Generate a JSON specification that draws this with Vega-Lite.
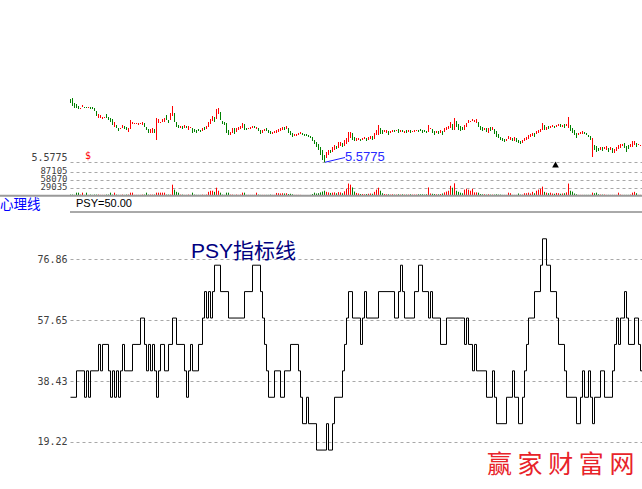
{
  "$schema": "https://vega.github.io/schema/vega-lite/v6.json",
  "width": 572,
  "height": 489,
  "autosize": {"type": "none"},
  "padding": {"left": 70, "top": 0, "right": 0, "bottom": 0},
  "background": "white",
  "config": {"view": {"stroke": null}, "font": "Liberation Sans"},
  "datasets": {
    "k": [
      {"d":0,"o":6.21,"c":6.17,"v":4000},{"d":1,"o":6.22,"c":6.14,"v":4000},{"d":2,"o":6.17,"c":6.12,"v":3000},{"d":3,"o":6.16,"c":6.12,"v":11000},
      {"d":4,"o":6.14,"c":6.11,"v":11000},{"d":5,"o":6.11,"c":6.12,"v":4000},{"d":6,"o":6.13,"c":6.15,"v":11000},{"d":7,"o":6.13,"c":6.12,"v":3000},
      {"d":8,"o":6.13,"c":6.12,"v":11000},{"d":9,"o":6.12,"c":6.13,"v":3000},{"d":10,"o":6.13,"c":6.11,"v":4000},{"d":11,"o":6.13,"c":6.11,"v":3000},
      {"d":12,"o":6.12,"c":6.09,"v":4000},{"d":13,"o":6.09,"c":6.04,"v":4000},{"d":14,"o":6.02,"c":6.06,"v":4000},{"d":15,"o":6.02,"c":6.05,"v":3000},
      {"d":16,"o":6.01,"c":6.03,"v":3000},{"d":17,"o":6.02,"c":6.03,"v":3000},{"d":18,"o":6.06,"c":6.02,"v":4000},{"d":19,"o":6.03,"c":6.00,"v":4000},
      {"d":20,"o":6.02,"c":5.98,"v":11000},{"d":21,"o":6.01,"c":5.95,"v":4000},{"d":22,"o":5.93,"c":5.98,"v":11000},{"d":23,"o":5.95,"c":5.92,"v":4000},
      {"d":24,"o":5.92,"c":5.89,"v":3000},{"d":25,"o":5.91,"c":5.92,"v":3000},{"d":26,"o":5.92,"c":5.95,"v":4000},{"d":27,"o":5.94,"c":5.91,"v":3000},
      {"d":28,"o":5.93,"c":5.90,"v":4000},{"d":29,"o":5.88,"c":5.92,"v":4000},{"d":30,"o":5.91,"c":6.00,"v":11000},{"d":31,"o":5.96,"c":5.98,"v":11000},
      {"d":32,"o":5.96,"c":5.97,"v":3000},{"d":33,"o":5.96,"c":5.97,"v":3000},{"d":34,"o":5.95,"c":5.97,"v":3000},{"d":35,"o":5.96,"c":5.97,"v":3000},
      {"d":36,"o":5.95,"c":5.98,"v":4000},{"d":37,"o":5.97,"c":5.93,"v":4000},{"d":38,"o":5.93,"c":5.90,"v":11000},{"d":39,"o":5.91,"c":5.87,"v":4000},
      {"d":40,"o":5.87,"c":5.91,"v":4000},{"d":41,"o":5.87,"c":5.92,"v":4000},{"d":42,"o":5.91,"c":5.87,"v":4000},{"d":43,"o":5.80,"c":6.02,"v":11000},
      {"d":44,"o":5.97,"c":6.01,"v":11000},{"d":45,"o":5.97,"c":5.98,"v":11000},{"d":46,"o":5.98,"c":6.01,"v":11000},{"d":47,"o":5.98,"c":6.02,"v":11000},
      {"d":48,"o":6.05,"c":6.00,"v":4000},{"d":49,"o":6.00,"c":5.97,"v":4000},{"d":50,"o":6.00,"c":6.07,"v":4000},{"d":51,"o":6.04,"c":6.14,"v":40000},
      {"d":52,"o":6.07,"c":5.98,"v":22000},{"d":53,"o":5.98,"c":5.93,"v":14000},{"d":54,"o":5.95,"c":5.92,"v":11000},{"d":55,"o":5.92,"c":5.94,"v":4000},
      {"d":56,"o":5.94,"c":5.91,"v":4000},{"d":57,"o":5.92,"c":5.95,"v":3000},{"d":58,"o":5.94,"c":5.92,"v":3000},{"d":59,"o":5.90,"c":5.94,"v":4000},
      {"d":60,"o":5.92,"c":5.93,"v":3000},{"d":61,"o":5.92,"c":5.87,"v":11000},{"d":62,"o":5.91,"c":5.88,"v":4000},{"d":63,"o":5.90,"c":5.87,"v":3000},
      {"d":64,"o":5.91,"c":5.89,"v":3000},{"d":65,"o":5.90,"c":5.88,"v":3000},{"d":66,"o":5.89,"c":5.92,"v":4000},{"d":67,"o":5.93,"c":5.90,"v":3000},
      {"d":68,"o":5.91,"c":5.94,"v":4000},{"d":69,"o":5.93,"c":5.98,"v":14000},{"d":70,"o":5.96,"c":6.01,"v":18000},{"d":71,"o":5.99,"c":6.04,"v":18000},
      {"d":72,"o":6.03,"c":5.98,"v":14000},{"d":73,"o":6.01,"c":6.11,"v":29000},{"d":74,"o":6.06,"c":6.12,"v":18000},{"d":75,"o":6.08,"c":6.00,"v":11000},
      {"d":76,"o":5.99,"c":5.96,"v":4000},{"d":77,"o":5.98,"c":5.95,"v":3000},{"d":78,"o":5.97,"c":5.87,"v":11000},{"d":79,"o":5.90,"c":5.85,"v":11000},
      {"d":80,"o":5.85,"c":5.88,"v":4000},{"d":81,"o":5.87,"c":5.92,"v":4000},{"d":82,"o":5.92,"c":5.86,"v":3000},{"d":83,"o":5.88,"c":5.92,"v":4000},
      {"d":84,"o":5.90,"c":5.93,"v":3000},{"d":85,"o":5.91,"c":5.94,"v":4000},{"d":86,"o":5.92,"c":5.97,"v":11000},{"d":87,"o":5.96,"c":5.90,"v":11000},
      {"d":88,"o":5.92,"c":5.90,"v":3000},{"d":89,"o":5.91,"c":5.92,"v":3000},{"d":90,"o":5.91,"c":5.93,"v":3000},{"d":91,"o":5.92,"c":5.94,"v":3000},
      {"d":92,"o":5.94,"c":5.92,"v":3000},{"d":93,"o":5.91,"c":5.93,"v":11000},{"d":94,"o":5.92,"c":5.89,"v":4000},{"d":95,"o":5.90,"c":5.86,"v":3000},
      {"d":96,"o":5.87,"c":5.90,"v":3000},{"d":97,"o":5.89,"c":5.91,"v":3000},{"d":98,"o":5.92,"c":5.89,"v":3000},{"d":99,"o":5.90,"c":5.87,"v":3000},
      {"d":100,"o":5.89,"c":5.86,"v":4000},{"d":101,"o":5.86,"c":5.88,"v":3000},{"d":102,"o":5.87,"c":5.89,"v":3000},{"d":103,"o":5.87,"c":5.90,"v":10000},
      {"d":104,"o":5.88,"c":5.91,"v":9000},{"d":105,"o":5.89,"c":5.92,"v":8000},{"d":106,"o":5.90,"c":5.93,"v":9000},{"d":107,"o":5.93,"c":5.90,"v":8000},
      {"d":108,"o":5.91,"c":5.94,"v":9000},{"d":109,"o":5.92,"c":5.87,"v":6000},{"d":110,"o":5.89,"c":5.85,"v":7000},{"d":111,"o":5.87,"c":5.83,"v":5000},
      {"d":112,"o":5.84,"c":5.86,"v":3000},{"d":113,"o":5.84,"c":5.86,"v":3000},{"d":114,"o":5.85,"c":5.87,"v":3000},{"d":115,"o":5.86,"c":5.88,"v":3000},
      {"d":116,"o":5.87,"c":5.85,"v":2000},{"d":117,"o":5.86,"c":5.84,"v":2000},{"d":118,"o":5.86,"c":5.84,"v":2000},{"d":119,"o":5.85,"c":5.83,"v":2000},
      {"d":120,"o":5.84,"c":5.82,"v":3000},{"d":121,"o":5.83,"c":5.79,"v":6000},{"d":122,"o":5.80,"c":5.76,"v":11000},{"d":123,"o":5.78,"c":5.73,"v":8000},
      {"d":124,"o":5.76,"c":5.70,"v":9000},{"d":125,"o":5.73,"c":5.65,"v":12000},{"d":126,"o":5.70,"c":5.60,"v":15000},{"d":127,"o":5.65,"c":5.5775,"v":18000},
      {"d":128,"o":5.62,"c":5.68,"v":14000},{"d":129,"o":5.65,"c":5.70,"v":12000},{"d":130,"o":5.70,"c":5.67,"v":10000},{"d":131,"o":5.68,"c":5.73,"v":11000},
      {"d":132,"o":5.70,"c":5.75,"v":12000},{"d":133,"o":5.74,"c":5.71,"v":9000},{"d":134,"o":5.72,"c":5.78,"v":13000},{"d":135,"o":5.74,"c":5.78,"v":12000},
      {"d":136,"o":5.77,"c":5.73,"v":9000},{"d":137,"o":5.74,"c":5.80,"v":16000},{"d":138,"o":5.76,"c":5.82,"v":25000},{"d":139,"o":5.78,"c":5.88,"v":44000},
      {"d":140,"o":5.82,"c":5.88,"v":40000},{"d":141,"o":5.87,"c":5.80,"v":30000},{"d":142,"o":5.83,"c":5.79,"v":15000},{"d":143,"o":5.79,"c":5.82,"v":10000},
      {"d":144,"o":5.80,"c":5.82,"v":8000},{"d":145,"o":5.81,"c":5.79,"v":6000},{"d":146,"o":5.80,"c":5.82,"v":6000},{"d":147,"o":5.81,"c":5.83,"v":5000},
      {"d":148,"o":5.82,"c":5.79,"v":6000},{"d":149,"o":5.80,"c":5.83,"v":7000},{"d":150,"o":5.81,"c":5.84,"v":8000},{"d":151,"o":5.84,"c":5.80,"v":7000},
      {"d":152,"o":5.81,"c":5.87,"v":14000},{"d":153,"o":5.85,"c":5.90,"v":22000},{"d":154,"o":5.85,"c":5.95,"v":29000},{"d":155,"o":5.92,"c":5.86,"v":18000},
      {"d":156,"o":5.90,"c":5.86,"v":9000},{"d":157,"o":5.88,"c":5.90,"v":6000},{"d":158,"o":5.87,"c":5.90,"v":5000},{"d":159,"o":5.89,"c":5.85,"v":5000},
      {"d":160,"o":5.87,"c":5.89,"v":4000},{"d":161,"o":5.88,"c":5.90,"v":5000},{"d":162,"o":5.90,"c":5.88,"v":4000},{"d":163,"o":5.89,"c":5.90,"v":4000},
      {"d":164,"o":5.91,"c":5.87,"v":5000},{"d":165,"o":5.88,"c":5.90,"v":4000},{"d":166,"o":5.90,"c":5.88,"v":5000},{"d":167,"o":5.87,"c":5.89,"v":4000},
      {"d":168,"o":5.90,"c":5.87,"v":4000},{"d":169,"o":5.88,"c":5.90,"v":4000},{"d":170,"o":5.90,"c":5.87,"v":5000},{"d":171,"o":5.88,"c":5.89,"v":4000},
      {"d":172,"o":5.88,"c":5.90,"v":4000},{"d":173,"o":5.89,"c":5.90,"v":4000},{"d":174,"o":5.90,"c":5.88,"v":5000},{"d":175,"o":5.91,"c":5.89,"v":5000},
      {"d":176,"o":5.90,"c":5.87,"v":5000},{"d":177,"o":5.90,"c":5.88,"v":4000},{"d":178,"o":5.89,"c":5.87,"v":5000},{"d":179,"o":5.88,"c":5.95,"v":30000},
      {"d":180,"o":5.91,"c":5.92,"v":8000},{"d":181,"o":5.91,"c":5.87,"v":7000},{"d":182,"o":5.89,"c":5.85,"v":6000},{"d":183,"o":5.87,"c":5.89,"v":5000},
      {"d":184,"o":5.89,"c":5.86,"v":5000},{"d":185,"o":5.87,"c":5.90,"v":6000},{"d":186,"o":5.89,"c":5.85,"v":8000},{"d":187,"o":5.88,"c":5.92,"v":12000},
      {"d":188,"o":5.90,"c":5.93,"v":15000},{"d":189,"o":5.91,"c":5.94,"v":18000},{"d":190,"o":5.92,"c":5.98,"v":36000},{"d":191,"o":5.96,"c":5.90,"v":29000},
      {"d":192,"o":5.90,"c":6.02,"v":45000},{"d":193,"o":5.99,"c":5.93,"v":18000},{"d":194,"o":5.96,"c":5.90,"v":14000},{"d":195,"o":5.94,"c":5.89,"v":11000},
      {"d":196,"o":5.93,"c":5.90,"v":9000},{"d":197,"o":5.90,"c":5.95,"v":22000},{"d":198,"o":5.93,"c":5.97,"v":25000},{"d":199,"o":5.97,"c":6.00,"v":22000},
      {"d":200,"o":5.98,"c":5.99,"v":18000},{"d":201,"o":5.99,"c":6.01,"v":25000},{"d":202,"o":5.98,"c":6.00,"v":12000},{"d":203,"o":5.97,"c":6.01,"v":12000},
      {"d":204,"o":5.98,"c":5.93,"v":11000},{"d":205,"o":5.94,"c":5.90,"v":6000},{"d":206,"o":5.93,"c":5.89,"v":5000},{"d":207,"o":5.90,"c":5.92,"v":5000},
      {"d":208,"o":5.92,"c":5.88,"v":4000},{"d":209,"o":5.87,"c":5.92,"v":5000},{"d":210,"o":5.93,"c":5.89,"v":4000},{"d":211,"o":5.90,"c":5.93,"v":4000},
      {"d":212,"o":5.91,"c":5.86,"v":4000},{"d":213,"o":5.89,"c":5.83,"v":5000},{"d":214,"o":5.86,"c":5.82,"v":4000},{"d":215,"o":5.83,"c":5.80,"v":4000},
      {"d":216,"o":5.82,"c":5.79,"v":3000},{"d":217,"o":5.81,"c":5.78,"v":3000},{"d":218,"o":5.79,"c":5.81,"v":3000},{"d":219,"o":5.81,"c":5.84,"v":11000},
      {"d":220,"o":5.80,"c":5.83,"v":9000},{"d":221,"o":5.82,"c":5.79,"v":3000},{"d":222,"o":5.79,"c":5.83,"v":3000},{"d":223,"o":5.82,"c":5.78,"v":3000},
      {"d":224,"o":5.80,"c":5.77,"v":8000},{"d":225,"o":5.79,"c":5.76,"v":4000},{"d":226,"o":5.77,"c":5.80,"v":4000},{"d":227,"o":5.79,"c":5.82,"v":9000},
      {"d":228,"o":5.80,"c":5.83,"v":9000},{"d":229,"o":5.81,"c":5.85,"v":11000},{"d":230,"o":5.83,"c":5.86,"v":8000},{"d":231,"o":5.84,"c":5.87,"v":14000},
      {"d":232,"o":5.87,"c":5.83,"v":9000},{"d":233,"o":5.86,"c":5.89,"v":18000},{"d":234,"o":5.87,"c":5.90,"v":22000},{"d":235,"o":5.88,"c":5.91,"v":25000},
      {"d":236,"o":5.90,"c":5.97,"v":33000},{"d":237,"o":5.95,"c":5.90,"v":14000},{"d":238,"o":5.90,"c":5.93,"v":11000},{"d":239,"o":5.94,"c":5.91,"v":9000},
      {"d":240,"o":5.92,"c":5.94,"v":11000},{"d":241,"o":5.93,"c":5.95,"v":8000},{"d":242,"o":5.94,"c":5.92,"v":7000},{"d":243,"o":5.93,"c":5.95,"v":10000},
      {"d":244,"o":5.94,"c":5.96,"v":9000},{"d":245,"o":5.96,"c":5.93,"v":7000},{"d":246,"o":5.93,"c":5.95,"v":8000},{"d":247,"o":5.96,"c":5.92,"v":9000},
      {"d":248,"o":5.94,"c":5.96,"v":12000},{"d":249,"o":5.92,"c":6.03,"v":44000},{"d":250,"o":5.95,"c":5.89,"v":18000},{"d":251,"o":5.92,"c":5.87,"v":15000},
      {"d":252,"o":5.90,"c":5.85,"v":8000},{"d":253,"o":5.87,"c":5.82,"v":5000},{"d":254,"o":5.85,"c":5.87,"v":3000},{"d":255,"o":5.86,"c":5.88,"v":3000},
      {"d":256,"o":5.86,"c":5.89,"v":3000},{"d":257,"o":5.88,"c":5.86,"v":3000},{"d":258,"o":5.87,"c":5.85,"v":3000},{"d":259,"o":5.85,"c":5.83,"v":3000},
      {"d":260,"o":5.84,"c":5.80,"v":3000},{"d":261,"o":5.63,"c":5.82,"v":11000},{"d":262,"o":5.75,"c":5.70,"v":9000},{"d":263,"o":5.74,"c":5.68,"v":11000},
      {"d":264,"o":5.72,"c":5.69,"v":5000},{"d":265,"o":5.70,"c":5.73,"v":4000},{"d":266,"o":5.73,"c":5.69,"v":4000},{"d":267,"o":5.71,"c":5.73,"v":4000},
      {"d":268,"o":5.70,"c":5.74,"v":3000},{"d":269,"o":5.72,"c":5.68,"v":3000},{"d":270,"o":5.70,"c":5.73,"v":3000},{"d":271,"o":5.72,"c":5.67,"v":3000},
      {"d":272,"o":5.67,"c":5.71,"v":3000},{"d":273,"o":5.69,"c":5.73,"v":3000},{"d":274,"o":5.71,"c":5.75,"v":11000},{"d":275,"o":5.72,"c":5.76,"v":4000},
      {"d":276,"o":5.74,"c":5.76,"v":3000},{"d":277,"o":5.77,"c":5.72,"v":3000},{"d":278,"o":5.74,"c":5.68,"v":3000},{"d":279,"o":5.75,"c":5.71,"v":3000},
      {"d":280,"o":5.73,"c":5.76,"v":4000},{"d":281,"o":5.73,"c":5.79,"v":11000},{"d":282,"o":5.75,"c":5.79,"v":14000},{"d":283,"o":5.77,"c":5.73,"v":9000},
      {"d":284,"o":5.75,"c":5.76,"v":3000},{"d":285,"o":5.74,"c":5.75,"v":3000}
    ],
    "psy": [
      {"d":0,"v":33.33},{"d":3,"v":41.67},{"d":7,"v":33.33},{"d":8,"v":41.67},{"d":9,"v":33.33},{"d":10,"v":41.67},
      {"d":14,"v":50},{"d":15,"v":41.67},{"d":16,"v":50},{"d":19,"v":41.67},{"d":20,"v":33.33},{"d":21,"v":41.67},
      {"d":22,"v":33.33},{"d":23,"v":41.67},{"d":24,"v":33.33},{"d":25,"v":41.67},{"d":26,"v":50},{"d":27,"v":41.67},
      {"d":31,"v":50},{"d":35,"v":58.33},{"d":37,"v":50},{"d":38,"v":41.67},{"d":39,"v":50},{"d":40,"v":41.67},
      {"d":41,"v":50},{"d":42,"v":41.67},{"d":43,"v":33.33},{"d":44,"v":41.67},{"d":45,"v":50},{"d":47,"v":41.67},
      {"d":49,"v":50},{"d":51,"v":58.33},{"d":53,"v":50},{"d":57,"v":41.67},{"d":58,"v":33.33},{"d":59,"v":41.67},
      {"d":60,"v":50},{"d":61,"v":41.67},{"d":64,"v":50},{"d":66,"v":58.33},{"d":67,"v":66.67},{"d":68,"v":58.33},
      {"d":69,"v":66.67},{"d":70,"v":58.33},{"d":71,"v":66.67},{"d":72,"v":75},{"d":75,"v":66.67},{"d":79,"v":58.33},
      {"d":87,"v":66.67},{"d":91,"v":75},{"d":95,"v":66.67},{"d":96,"v":58.33},{"d":97,"v":50},{"d":98,"v":41.67},
      {"d":99,"v":33.33},{"d":102,"v":41.67},{"d":105,"v":33.33},{"d":107,"v":41.67},{"d":110,"v":50},{"d":114,"v":41.67},
      {"d":115,"v":33.33},{"d":116,"v":25},{"d":118,"v":33.33},{"d":119,"v":25},{"d":123,"v":16.67},{"d":128,"v":25},
      {"d":129,"v":16.67},{"d":131,"v":25},{"d":132,"v":33.33},{"d":136,"v":41.67},{"d":137,"v":50},{"d":138,"v":58.33},
      {"d":139,"v":66.67},{"d":141,"v":58.33},{"d":145,"v":50},{"d":146,"v":58.33},{"d":147,"v":66.67},{"d":148,"v":58.33},
      {"d":154,"v":66.67},{"d":162,"v":58.33},{"d":164,"v":66.67},{"d":165,"v":75},{"d":166,"v":66.67},{"d":167,"v":58.33},
      {"d":172,"v":66.67},{"d":174,"v":75},{"d":176,"v":66.67},{"d":179,"v":58.33},{"d":180,"v":66.67},{"d":181,"v":58.33},
      {"d":185,"v":50},{"d":188,"v":58.33},{"d":197,"v":50},{"d":198,"v":58.33},{"d":199,"v":50},{"d":201,"v":41.67},
      {"d":202,"v":50},{"d":203,"v":41.67},{"d":208,"v":33.33},{"d":211,"v":41.67},{"d":212,"v":33.33},{"d":213,"v":25},
      {"d":218,"v":33.33},{"d":221,"v":41.67},{"d":222,"v":33.33},{"d":224,"v":25},{"d":226,"v":33.33},{"d":227,"v":41.67},
      {"d":228,"v":50},{"d":229,"v":58.33},{"d":232,"v":66.67},{"d":235,"v":75},{"d":236,"v":83.33},{"d":238,"v":75},
      {"d":240,"v":66.67},{"d":243,"v":58.33},{"d":244,"v":50},{"d":247,"v":41.67},{"d":248,"v":33.33},{"d":253,"v":25},
      {"d":255,"v":33.33},{"d":256,"v":41.67},{"d":257,"v":33.33},{"d":259,"v":41.67},{"d":260,"v":33.33},{"d":261,"v":25},
      {"d":262,"v":33.33},{"d":265,"v":41.67},{"d":267,"v":33.33},{"d":271,"v":41.67},{"d":272,"v":50},{"d":273,"v":58.33},
      {"d":274,"v":50},{"d":275,"v":58.33},{"d":277,"v":66.67},{"d":278,"v":58.33},{"d":279,"v":50},{"d":282,"v":58.33},
      {"d":284,"v":50},{"d":285,"v":41.67},{"d":286,"v":41.67}
    ]
  },
  "layer": [
    {
      "layer": [
        {
          "data": {"name": "psy"},
          "mark": {"type": "line", "interpolate": "step-after", "color": "#000000", "strokeWidth": 1, "xOffset": 0.5},
          "encoding": {
            "x": {"field": "d", "type": "quantitative", "scale": {"domain": [0, 286], "nice": false, "zero": false}, "axis": null},
            "y": {
              "field": "v", "type": "quantitative",
              "scale": {"domain": [4.39, 158.67], "nice": false, "zero": false},
              "axis": {
                "orient": "left", "title": null, "values": [19.22, 38.43, 57.65, 76.86], "format": ".2f",
                "domain": false, "ticks": false, "labelPadding": 3, "labelOverlap": false,
                "labelFont": "DejaVu Sans Mono", "labelFontSize": 10, "labelColor": "#404040",
                "grid": true, "gridDash": [3, 3], "gridColor": "#a8a8a8", "gridWidth": 1
              }
            }
          }
        },
        {
          "data": {"values": [{}]},
          "mark": {"type": "rule", "color": "#555555", "strokeWidth": 1},
          "encoding": {
            "x": {"datum": 0, "type": "quantitative", "scale": {"domain": [0, 286], "nice": false, "zero": false}},
            "x2": {"datum": 286},
            "y": {"datum": 91.78, "type": "quantitative", "scale": {"domain": [4.39, 158.67], "nice": false, "zero": false}}
          }
        },
        {
          "data": {"values": [{}]},
          "mark": {"type": "text", "text": "心理线", "font": "Noto Sans CJK SC", "fontSize": 13.5, "color": "#0000ff", "align": "left", "baseline": "middle"},
          "encoding": {
            "x": {"datum": -35, "type": "quantitative", "scale": {"domain": [0, 286], "nice": false, "zero": false}},
            "y": {"datum": 93.9, "type": "quantitative", "scale": {"domain": [4.39, 158.67], "nice": false, "zero": false}}
          }
        },
        {
          "data": {"values": [{}]},
          "mark": {"type": "text", "text": "PSY=50.00", "font": "Liberation Sans", "fontSize": 11, "color": "#000000", "align": "left", "baseline": "middle"},
          "encoding": {
            "x": {"datum": 3, "type": "quantitative", "scale": {"domain": [0, 286], "nice": false, "zero": false}},
            "y": {"datum": 94.3, "type": "quantitative", "scale": {"domain": [4.39, 158.67], "nice": false, "zero": false}}
          }
        },
        {
          "data": {"values": [{}]},
          "mark": {"type": "text", "text": "PSY指标线", "font": "Liberation Sans, Noto Sans CJK SC", "fontSize": 21, "color": "#000080", "align": "left", "baseline": "middle"},
          "encoding": {
            "x": {"datum": 60.5, "type": "quantitative", "scale": {"domain": [0, 286], "nice": false, "zero": false}},
            "y": {"datum": 79.3, "type": "quantitative", "scale": {"domain": [4.39, 158.67], "nice": false, "zero": false}}
          }
        },
        {
          "data": {"values": [{}]},
          "mark": {"type": "text", "text": "赢 家 财 富 网", "font": "Noto Sans CJK SC", "fontSize": 25, "color": "#e8232a", "align": "left", "baseline": "middle"},
          "encoding": {
            "x": {"datum": 208.5, "type": "quantitative", "scale": {"domain": [0, 286], "nice": false, "zero": false}},
            "y": {"datum": 11.96, "type": "quantitative", "scale": {"domain": [4.39, 158.67], "nice": false, "zero": false}}
          }
        }
      ]
    },
    {
      "layer": [
        {
          "data": {"name": "k"},
          "mark": {"type": "rule", "strokeWidth": 1, "xOffset": 0.5},
          "encoding": {
            "x": {"field": "d", "type": "quantitative", "scale": {"domain": [0, 286], "nice": false, "zero": false}, "axis": null},
            "y": {
              "field": "o", "type": "quantitative",
              "scale": {"domain": [2.31, 7.2], "nice": false, "zero": false},
              "axis": {
                "orient": "left", "title": null, "values": [5.5775], "format": ".4f",
                "domain": false, "ticks": false, "labelPadding": 3, "labelBaseline": "bottom", "labelOverlap": false,
                "labelFont": "DejaVu Sans Mono", "labelFontSize": 10, "labelColor": "#404040",
                "grid": true, "gridDash": [3, 3], "gridColor": "#a8a8a8", "gridWidth": 1
              }
            },
            "y2": {"field": "c"},
            "color": {"condition": {"test": "datum.c >= datum.o", "value": "#ff0000"}, "value": "#008000"}
          }
        },
        {
          "data": {"values": [{}]},
          "mark": {"type": "text", "text": "$", "font": "DejaVu Sans Mono", "fontSize": 10, "color": "#ff0000", "align": "left", "baseline": "middle"},
          "encoding": {
            "x": {"datum": 7.5, "type": "quantitative", "scale": {"domain": [0, 286], "nice": false, "zero": false}},
            "y": {"datum": 5.64, "type": "quantitative", "scale": {"domain": [2.31, 7.2], "nice": false, "zero": false}}
          }
        },
        {
          "data": {"values": [{}]},
          "mark": {"type": "rule", "color": "#1a1aff", "strokeWidth": 1},
          "encoding": {
            "x": {"datum": 127.5, "type": "quantitative", "scale": {"domain": [0, 286], "nice": false, "zero": false}},
            "x2": {"datum": 137.5},
            "y": {"datum": 5.5775, "type": "quantitative", "scale": {"domain": [2.31, 7.2], "nice": false, "zero": false}},
            "y2": {"datum": 5.625}
          }
        },
        {
          "data": {"values": [{}]},
          "mark": {"type": "text", "text": "5.5775", "font": "Liberation Sans", "fontSize": 13, "color": "#2a2aff", "align": "left", "baseline": "middle"},
          "encoding": {
            "x": {"datum": 137.5, "type": "quantitative", "scale": {"domain": [0, 286], "nice": false, "zero": false}},
            "y": {"datum": 5.635, "type": "quantitative", "scale": {"domain": [2.31, 7.2], "nice": false, "zero": false}}
          }
        },
        {
          "data": {"values": [{}]},
          "mark": {"type": "point", "shape": "triangle-up", "filled": true, "color": "#000000", "size": 45, "opacity": 1},
          "encoding": {
            "x": {"datum": 242.75, "type": "quantitative", "scale": {"domain": [0, 286], "nice": false, "zero": false}},
            "y": {"datum": 5.555, "type": "quantitative", "scale": {"domain": [2.31, 7.2], "nice": false, "zero": false}}
          }
        }
      ]
    },
    {
      "layer": [
        {
          "data": {"name": "k"},
          "mark": {"type": "rule", "strokeWidth": 1, "xOffset": 0.5},
          "encoding": {
            "x": {"field": "d", "type": "quantitative", "scale": {"domain": [0, 286], "nice": false, "zero": false}, "axis": null},
            "y": {
              "field": "v", "type": "quantitative",
              "scale": {"domain": [-1064503, 710275], "nice": false, "zero": false},
              "axis": {
                "orient": "left", "title": null, "values": [29035, 58070, 87105], "format": "d",
                "domain": false, "ticks": false, "labelPadding": 3, "labelOffset": -1, "labelOverlap": false,
                "labelFont": "DejaVu Sans Mono", "labelFontSize": 9, "labelColor": "#404040",
                "grid": true, "gridDash": [3, 3], "gridColor": "#a8a8a8", "gridWidth": 1
              }
            },
            "y2": {"datum": 0},
            "color": {"condition": {"test": "datum.c >= datum.o", "value": "#ff0000"}, "value": "#008000"}
          }
        },
        {
          "data": {"values": [{}]},
          "mark": {"type": "rule", "color": "#999999", "strokeWidth": 2},
          "encoding": {
            "x": {"datum": -35, "type": "quantitative", "scale": {"domain": [0, 286], "nice": false, "zero": false}},
            "x2": {"datum": 286},
            "y": {"datum": 0, "type": "quantitative", "scale": {"domain": [-1064503, 710275], "nice": false, "zero": false}}
          }
        }
      ]
    }
  ],
  "resolve": {"scale": {"y": "independent"}, "axis": {"y": "independent"}}
}
